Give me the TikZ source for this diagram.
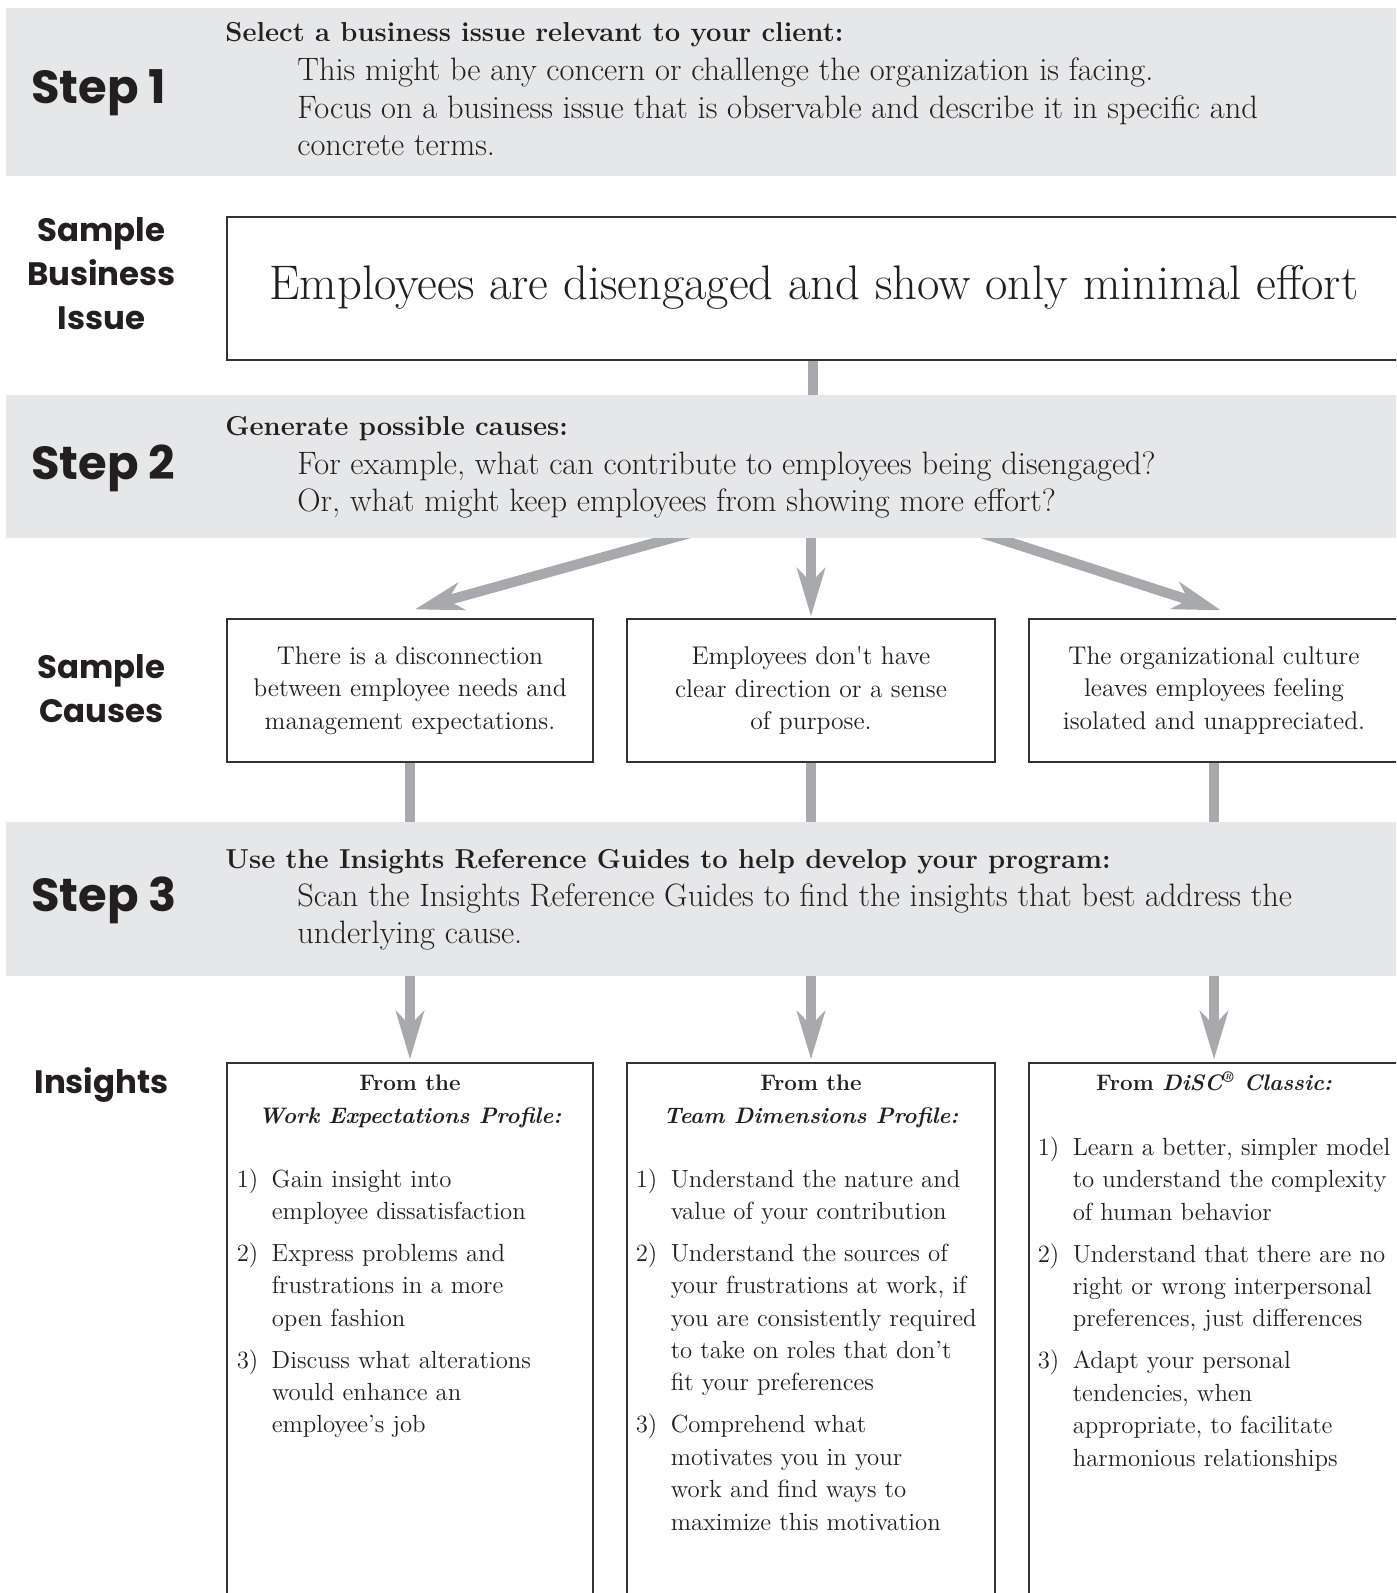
\documentclass[tikz,border=0pt]{standalone}
\usepackage{fontspec}
\usepackage{tikz}
\usetikzlibrary{positioning, arrows.meta}
\newfontfamily\labelfont{Poppins}
\definecolor{bandgray}{HTML}{E6E7E8}
\definecolor{arrowgray}{HTML}{A7A9AC}
\definecolor{boxline}{HTML}{333333}
\definecolor{inktext}{HTML}{231F20}
\tikzset{
  band/.style = {fill=bandgray, inner sep=0pt, minimum width=697pt},
  card/.style = {draw=boxline, line width=0.65pt, fill=white, inner sep=0pt, align=center},
  steplabel/.style = {anchor=base west, inner sep=0pt, font=\labelfont\bfseries\fontsize{23.2}{26}\selectfont},
  sidelabel/.style = {inner sep=0pt, align=center, font=\labelfont\bfseries\fontsize{16.2}{22}\selectfont},
  headline/.style = {anchor=base west, inner sep=0pt, font=\bfseries\fontsize{13.7}{18.8}\selectfont},
  bodytext/.style = {anchor=north west, inner sep=0pt, align=left, font=\fontsize{16.2}{18.8}\selectfont},
  causetext/.style = {font=\fontsize{12.8}{16.25}\selectfont},
  insighthead/.style = {inner sep=0pt, align=center, font=\bfseries\fontsize{11.2}{16.5}\selectfont},
  itemlist/.style = {inner sep=0pt, font=\fontsize{12.4}{16.2}\selectfont},
  fatline/.style = {draw=arrowgray, line width=5pt},
  fatarrow/.style = {fatline, -{Stealth[length=24pt, width=14pt, inset=7pt]}},
}
\begin{document}
\begin{tikzpicture}[x=0.5pt, y=-0.5pt, text=inktext]
  \useasboundingbox (0,0) rectangle (1396,1593);
  \clip (0,0) rectangle (1396,1593);
  \fill[white] (0,0) rectangle (1396,1593);

  % boxes
  \node[card, minimum width=585.5pt, minimum height=71.5pt] (issue) at (812.5,288.5) {};
  \node[anchor=base west, inner sep=0pt, font=\fontsize{24.3}{28}\selectfont] (issuetext) at (269,300) {Employees are disengaged and show only minimal effort};

  \node[card, causetext, minimum width=183pt, minimum height=71.5pt] (cause1) at (410,690.5) {There is a disconnection\\between employee needs and\\management expectations.};
  \node[card, causetext, minimum width=184pt, minimum height=71.5pt] (cause2) at (811,690.5) {Employees don\textquotesingle t have\\clear direction or a sense\\of purpose.};
  \node[card, causetext, minimum width=185pt, minimum height=71.5pt] (cause3) at (1214,690.5) {The organizational culture\\leaves employees feeling\\isolated and unappreciated.};

  \node[card, minimum width=183pt, minimum height=288.5pt] (insight1) at (410,1351.5) {};
  \node[card, minimum width=184pt, minimum height=288.5pt] (insight2) at (811,1351.5) {};
  \node[card, minimum width=185pt, minimum height=288.5pt] (insight3) at (1214,1351.5) {};

  % arrows out of step 2 (drawn under the band)
  \coordinate (s2l) at (701,530);
  \coordinate (s2r) at (972,530);
  \draw[fatarrow] (s2l) -- ([xshift=2.5pt, yshift=4.5pt]cause1.north);
  \draw[fatarrow] (s2r) -- ([xshift=3.5pt, yshift=4pt]cause3.north);

  % bands
  \node[band, minimum height=84pt] (step1) at (703,92) {};
  \node[band, minimum height=71.5pt] (step2) at (703,466.5) {};
  \node[band, minimum height=77pt] (step3) at (703,899) {};

  \node[headline] (head1) at (225,42) {Select a business issue relevant to your client:};
  \node[bodytext] (body1) at (297,57.5) {This might be any concern or challenge the organization is facing.\\Focus on a business issue that is observable and describe it in specific and\\concrete terms.};
  \node[headline] (head2) at (225,436) {Generate possible causes:};
  \node[bodytext] (body2) at (297,451.2) {For example, what can contribute to employees being disengaged?\\Or, what might keep employees from showing more effort?};
  \node[headline] (head3) at (225,868) {Use the Insights Reference Guides to help develop your program:};
  \node[bodytext] (body3) at (297,883.2) {Scan the Insights Reference Guides to find the insights that best address the\\underlying cause.};

  % side labels
  \node[steplabel] (lab1) at (31,104) {Step 1};
  \node[steplabel] (lab2) at (31,480) {Step 2};
  \node[steplabel] (lab3) at (31,911) {Step 3};
  \node[sidelabel, anchor=north] (labissue) at (101.5,217.5) {Sample\\Business\\Issue};
  \node[sidelabel, anchor=north] (labcauses) at (101.5,654.5) {Sample\\Causes};
  \node[sidelabel, anchor=base] (labinsights) at (101.5,1093) {Insights};

  % connectors
  \draw[fatline] (issue.south) -- (issue.south |- step2.north);
  \draw[fatarrow] (step2.south -| cause2.north) -- ([yshift=1pt]cause2.north);
  \draw[fatline] (cause1.south) -- (cause1.south |- step3.north);
  \draw[fatline] (cause2.south) -- (cause2.south |- step3.north);
  \draw[fatline] (cause3.south) -- (cause3.south |- step3.north);
  \draw[fatarrow] (step3.south -| insight1.north) -- ([yshift=1.5pt]insight1.north);
  \draw[fatarrow] (step3.south -| insight2.north) -- ([yshift=1.5pt]insight2.north);
  \draw[fatarrow] (step3.south -| insight3.north) -- ([yshift=1.5pt]insight3.north);

  % insights
  \node[insighthead, below=6.2pt of insight1.north] (wephead) {From the\\\textit{Work Expectations Profile:}};
  \node[insighthead, below=6.2pt of insight2.north] (tdphead) {From the\\\textit{Team Dimensions Profile:}};
  \node[insighthead, below=4.7pt of insight3.north] (dischead) {From \textit{DiSC\textsuperscript{\textregistered} Classic:}};

  \node[itemlist, below right=50.8pt and 5pt of insight1.north west] (wepitems) {\begin{tabular}[t]{@{}p{17.5pt}@{}l@{}}
    1) & Gain insight into\\
       & employee dissatisfaction\\[4.75pt]
    2) & Express problems and\\
       & frustrations in a more\\
       & open fashion\\[4.75pt]
    3) & Discuss what alterations\\
       & would enhance an\\
       & employee’s job
  \end{tabular}};
  \node[itemlist, below right=50.8pt and 4.5pt of insight2.north west] (tdpitems) {\begin{tabular}[t]{@{}p{17.5pt}@{}l@{}}
    1) & Understand the nature and\\
       & value of your contribution\\[4.75pt]
    2) & Understand the sources of\\
       & your frustrations at work, if\\
       & you are consistently required\\
       & to take on roles that don’t\\
       & fit your preferences\\[4.75pt]
    3) & Comprehend what\\
       & motivates you in your\\
       & work and find ways to\\
       & maximize this motivation
  \end{tabular}};
  \node[itemlist, below right=35pt and 4.5pt of insight3.north west] (discitems) {\begin{tabular}[t]{@{}p{17.5pt}@{}l@{}}
    1) & Learn a better, simpler model\\
       & to understand the complexity\\
       & of human behavior\\[4.75pt]
    2) & Understand that there are no\\
       & right or wrong interpersonal\\
       & preferences, just differences\\[4.75pt]
    3) & Adapt your personal\\
       & tendencies, when\\
       & appropriate, to facilitate\\
       & harmonious relationships
  \end{tabular}};
\end{tikzpicture}
\end{document}
